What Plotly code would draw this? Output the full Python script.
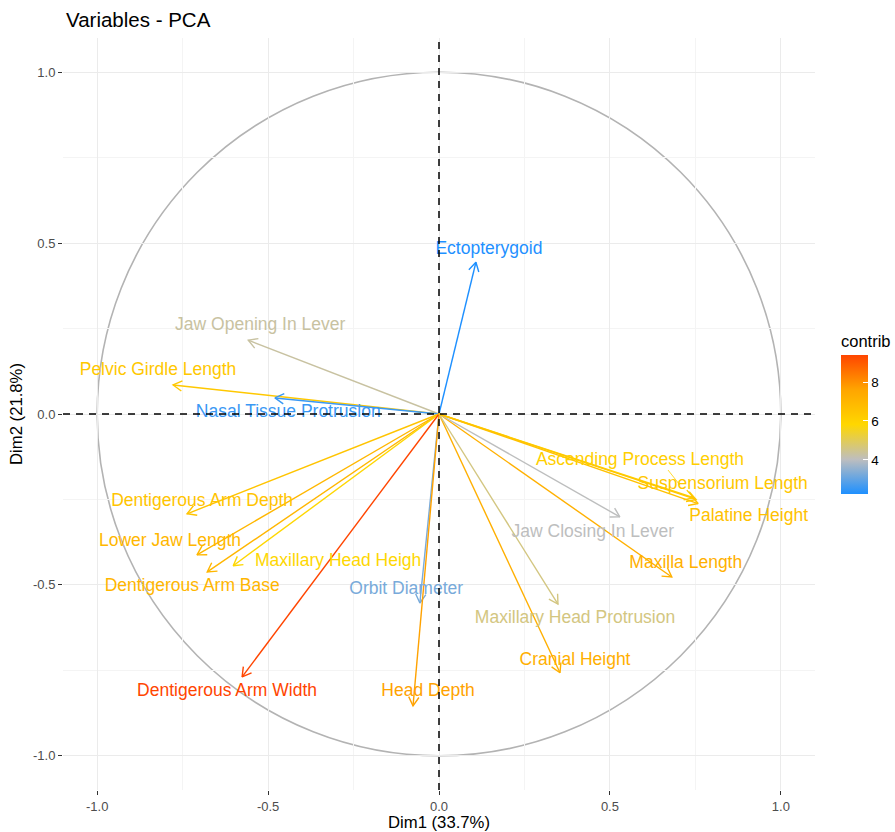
import math
import plotly.graph_objects as go
from plotly.colors import sample_colorscale

# ---- data ----
variables = [
    "Ectopterygoid", "Jaw Opening In Lever", "Pelvic Girdle Length",
    "Nasal Tissue Protrusion", "Dentigerous Arm Depth", "Lower Jaw Length",
    "Dentigerous Arm Base", "Maxillary Head Heigh", "Orbit Diameter",
    "Head Depth", "Dentigerous Arm Width", "Cranial Height",
    "Maxillary Head Protrusion", "Maxilla Length", "Jaw Closing In Lever",
    "Ascending Process Length", "Suspensorium Length", "Palatine Height",
]
dim1 = [0.108, -0.558, -0.778, -0.480, -0.737, -0.708, -0.678, -0.602, -0.056,
        -0.076, -0.576, 0.354, 0.348, 0.681, 0.529, 0.745, 0.752, 0.758]
dim2 = [0.444, 0.216, 0.085, 0.047, -0.292, -0.412, -0.462, -0.444, -0.553,
        -0.854, -0.769, -0.757, -0.556, -0.477, -0.301, -0.245, -0.250, -0.262]
contrib = [2.24, 4.30, 6.35, 2.55, 6.50, 6.95, 7.00, 5.80, 3.25,
           7.65, 9.39, 7.25, 4.60, 7.20, 4.02, 6.10, 6.40, 6.60]
axis_ticks = [-1.0, -0.5, 0.0, 0.5, 1.0]
tick_text = ["-1.0", "-0.5", "0.0", "0.5", "1.0"]

# label placement (repelled offsets from the arrow tips, data units)
label_dx = [0.038, 0.035, -0.044, 0.039, 0.044, -0.079, -0.044, 0.307, -0.040,
            0.044, -0.044, 0.044, 0.050, 0.041, -0.079, -0.157, 0.078, 0.148]
label_dy = [0.038, 0.044, 0.041, -0.044, 0.035, 0.038, -0.044, 0.011, 0.038,
            0.041, -0.044, 0.035, -0.044, 0.038, -0.047, 0.108, 0.042, -0.039]

colorscale = [[0.0, "#1E90FF"], [0.25, "#BEBEBE"], [0.5, "#FFD700"],
              [0.75, "#FFA500"], [1.0, "#FF4500"]]
cmin, cmax = min(contrib), max(contrib)
colors = sample_colorscale(colorscale, [(c - cmin) / (cmax - cmin) for c in contrib])

FONT = "Liberation Sans, Arial, Helvetica, sans-serif"
fig = go.Figure()

# unit circle
fig.add_shape(type="circle", xref="x", yref="y", x0=-1, y0=-1, x1=1, y1=1,
              line=dict(color="#B3B3B3", width=1.6), layer="below")
# dashed axes
fig.add_shape(type="line", xref="paper", yref="y", x0=0, x1=1, y0=0, y1=0,
              line=dict(color="black", width=1.5, dash="7px,6px"))
fig.add_shape(type="line", xref="x", yref="paper", x0=0, x1=0, y0=0, y1=1,
              line=dict(color="black", width=1.5, dash="7px,6px"))

# arrows
L = 0.03
c30, s30 = math.cos(math.radians(30)), math.sin(math.radians(30))
for i, name in enumerate(variables):
    x, y = dim1[i], dim2[i]
    n = math.hypot(x, y)
    ux, uy = x / n, y / n
    w1 = (x - L * (c30 * ux - s30 * uy), y - L * (c30 * uy + s30 * ux))
    w2 = (x - L * (c30 * ux + s30 * uy), y - L * (c30 * uy - s30 * ux))
    fig.add_trace(go.Scatter(x=[0, x, None, w1[0], x, w2[0]],
                             y=[0, y, None, w1[1], y, w2[1]],
                             mode="lines", line=dict(color=colors[i], width=1.4),
                             hoverinfo="skip", showlegend=False))

# repel connector for Ascending Process Length
ia = variables.index("Ascending Process Length")
fig.add_trace(go.Scatter(x=[dim1[ia] - 0.075, dim1[ia] - 0.04],
                         y=[dim2[ia] + 0.081, dim2[ia] + 0.037],
                         mode="lines", line=dict(color=colors[ia], width=0.8),
                         hoverinfo="skip", showlegend=False))

# labels
fig.add_trace(go.Scatter(
    x=[dim1[i] + label_dx[i] for i in range(len(variables))],
    y=[dim2[i] + label_dy[i] for i in range(len(variables))],
    text=variables, mode="text",
    textfont=dict(family=FONT, size=17.5, color=colors),
    hoverinfo="skip", showlegend=False))

# colorbar
fig.add_trace(go.Scatter(
    x=dim1, y=dim2, mode="markers", hoverinfo="skip", showlegend=False,
    marker=dict(size=0.1, opacity=0, color=contrib, cmin=cmin, cmax=cmax,
                colorscale=colorscale, showscale=True,
                colorbar=dict(
                    title=dict(text="contrib", side="top",
                               font=dict(family=FONT, size=16.5, color="black")),
                    x=1.0346, xanchor="left", xpad=0,
                    y=(790 - 494) / 752, yanchor="bottom", ypad=0,
                    len=162, lenmode="pixels", thickness=27,
                    outlinewidth=0, tickvals=[4, 6, 8],
                    ticks="inside", ticklen=5, tickcolor="white", tickwidth=1,
                    tickfont=dict(family=FONT, size=13.5, color="black")))))

axis_common = dict(range=[-1.1, 1.1], tickvals=axis_ticks, ticktext=tick_text,
                   showgrid=True, gridcolor="#EBEBEB", gridwidth=1.1,
                   zeroline=False, showline=False, automargin=False,
                   ticks="outside", ticklen=4, tickwidth=1, tickcolor="#333333",
                   tickfont=dict(family=FONT, size=13, color="#4D4D4D"),
                   minor=dict(dtick=0.25, showgrid=True, gridcolor="#F4F4F4",
                              gridwidth=0.6))

fig.update_layout(
    width=895, height=832,
    margin=dict(l=63, r=80, t=38, b=42, autoexpand=False),
    plot_bgcolor="white", paper_bgcolor="white",
    title=dict(text="Variables - PCA", x=66 / 895, xanchor="left",
               y=1 - 20 / 832, yanchor="middle",
               font=dict(family=FONT, size=20.5, color="black")),
    xaxis=dict(axis_common, title=dict(text="Dim1 (33.7%)", standoff=4,
                                       font=dict(family=FONT, size=16.7, color="black"))),
    yaxis=dict(axis_common, title=dict(text="Dim2 (21.8%)", standoff=6,
                                       font=dict(family=FONT, size=16.7, color="black"))),
)

fig.write_html("out.html", config={"displayModeBar": False},
               post_script="document.body.style.margin='0';"
                           "document.body.style.overflow='hidden';")
